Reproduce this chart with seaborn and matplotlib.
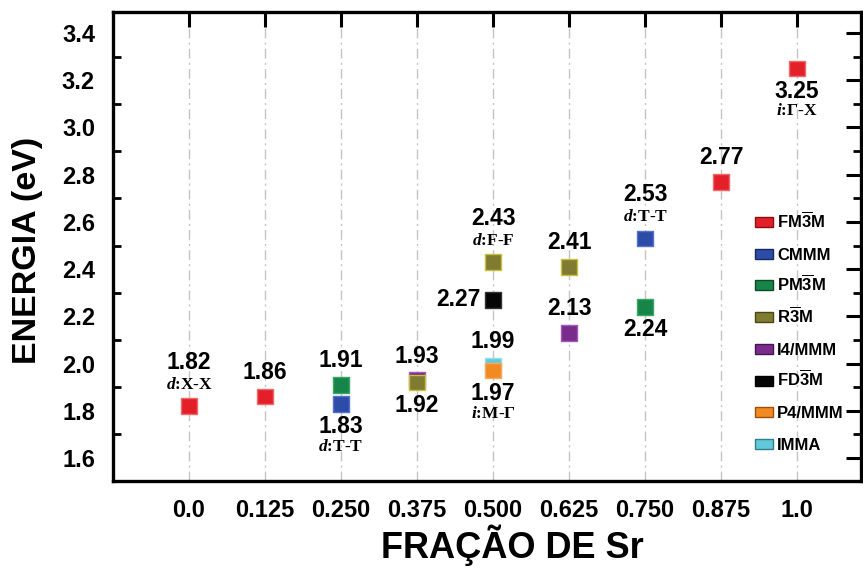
import numpy as np
import pandas as pd
import matplotlib
matplotlib.use("Agg")
import matplotlib.pyplot as plt
from matplotlib.patches import Rectangle
from matplotlib.ticker import MultipleLocator
import seaborn as sns

# ---------------- data ----------------
fraction_labels = ["0.0", "0.125", "0.250", "0.375", "0.500", "0.625", "0.750", "0.875", "1.0"]
phases = ["FM3M", "CMMM", "PM3M", "R3M", "I4/MMM", "FD3M", "P4/MMM", "IMMA"]
phase_labels = [r"FM$\overline{\mathbf{3}}$M", "CMMM", r"PM$\overline{\mathbf{3}}$M",
                r"R$\overline{\mathbf{3}}$M", "I4/MMM", r"FD$\overline{\mathbf{3}}$M",
                "P4/MMM", "IMMA"]

point_fraction = ["0.0", "0.125", "0.250", "0.250", "0.375", "0.375", "0.500", "0.500",
                  "0.500", "0.500", "0.625", "0.625", "0.750", "0.750", "0.875", "1.0"]
point_phase = ["FM3M", "FM3M", "CMMM", "PM3M", "I4/MMM", "R3M", "R3M", "FD3M",
               "IMMA", "P4/MMM", "R3M", "I4/MMM", "CMMM", "PM3M", "FM3M", "FM3M"]
energy = [1.82, 1.86, 1.83, 1.91, 1.93, 1.92, 2.43, 2.27,
          1.99, 1.97, 2.41, 2.13, 2.53, 2.24, 2.77, 3.25]
transition = ["d:X-X", "", "d:T-T", "", "", "", "d:F-F", "",
              "", "i:M-Γ", "", "", "d:T-T", "", "", "i:Γ-X"]

# ---------------- style ----------------
face_colors = {"FM3M": "#E3202A", "CMMM": "#2D4CA8", "PM3M": "#17844A", "R3M": "#7F7B30",
               "I4/MMM": "#7A2C8C", "FD3M": "#050505", "P4/MMM": "#F28A22", "IMMA": "#62C9D9"}
edge_colors = {"FM3M": "#F06A6A", "CMMM": "#5470D0", "PM3M": "#3AA865", "R3M": "#C9C040",
               "I4/MMM": "#A258B5", "FD3M": "#333333", "P4/MMM": "#F6A960", "IMMA": "#8EE0EC"}
legend_edges = {"FM3M": "#8A1010", "CMMM": "#16285E", "PM3M": "#0B4A28", "R3M": "#4A4716",
                "I4/MMM": "#441650", "FD3M": "#000000", "P4/MMM": "#9A5010", "IMMA": "#2F7F8C"}
value_pos = ["up2", "up", "down2", "up", "up", "down", "up2", "left",
             "up", "down2", "up", "up", "up2", "down", "up", "down2"]

sns.set_theme(style="white")
plt.rcParams["font.family"] = ["Liberation Sans", "DejaVu Sans"]
plt.rcParams["font.weight"] = "bold"
plt.rcParams["text.color"] = "black"
plt.rcParams["axes.labelcolor"] = "black"
plt.rcParams["xtick.color"] = "black"
plt.rcParams["ytick.color"] = "black"
plt.rcParams["mathtext.fontset"] = "custom"
plt.rcParams["mathtext.bf"] = "Liberation Sans:bold"
plt.rcParams["mathtext.rm"] = "Liberation Serif:bold"
plt.rcParams["mathtext.it"] = "Liberation Serif:italic:bold"

fig = plt.figure(figsize=(8.63, 5.70), dpi=100)
W, H = 863, 570
L, R, B, T = 113, 861, 481, 12
ax = fig.add_axes([L / W, (H - B) / H, (R - L) / W, (B - T) / H])

df = pd.DataFrame({"x": [float(f) for f in point_fraction], "energy": energy,
                   "phase": point_phase})

for f in fraction_labels:
    ax.axvline(float(f), color="#c4c4c4", lw=1.0, ls=(0, (7, 3, 1.5, 3)), zorder=0)

sns.scatterplot(data=df, x="x", y="energy", hue="phase", palette=face_colors,
                hue_order=phases, marker="s", s=125, linewidth=1.0, legend=False,
                ax=ax, zorder=3)
ax.collections[-1].set_edgecolors([edge_colors[p] for p in point_phase])

NUM_FS = 16.5
TR_FS = 12.5
for i, (xv, yv) in enumerate(zip(df["x"], df["energy"])):
    pos = value_pos[i]
    txt = f"{yv:.2f}"
    kw = dict(textcoords="offset pixels", fontsize=NUM_FS, fontweight="bold", color="black")
    tkw = dict(textcoords="offset pixels", ha="center", va="center", fontsize=TR_FS,
               fontweight="bold", family="Liberation Serif", color="black")
    trtxt = (r"$\mathit{" + transition[i][0] + "}$" + transition[i][1:]) if transition[i] else ""
    if pos == "up":
        ax.annotate(txt, (xv, yv), xytext=(0, 24), ha="center", va="center", **kw)
    elif pos == "up2":
        ax.annotate(txt, (xv, yv), xytext=(0, 44), ha="center", va="center", **kw)
        ax.annotate(trtxt, (xv, yv), xytext=(0, 21), **tkw)
    elif pos == "down":
        ax.annotate(txt, (xv, yv), xytext=(0, -23), ha="center", va="center", **kw)
    elif pos == "down2":
        ax.annotate(txt, (xv, yv), xytext=(0, -23), ha="center", va="center", **kw)
        ax.annotate(trtxt, (xv, yv), xytext=(0, -43), **tkw)
    elif pos == "left":
        ax.annotate(txt, (xv, yv), xytext=(-12, 0), ha="right", va="center", **kw)

ax.set_xlim(-0.125, 1.105)
ax.set_ylim(1.503, 3.489)
ax.set_xticks([float(f) for f in fraction_labels])
ax.set_xticklabels(fraction_labels)
ax.yaxis.set_major_locator(MultipleLocator(0.2))
ax.yaxis.set_minor_locator(MultipleLocator(0.1))
ax.yaxis.set_major_formatter(matplotlib.ticker.FormatStrFormatter("%.1f"))
ax.tick_params(axis="both", which="major", direction="in", length=11, width=2.2,
               labelsize=17, top=True, right=True, color="black", labelcolor="black")
ax.tick_params(axis="y", which="major", pad=13)
ax.tick_params(axis="x", which="major", pad=13)
ax.tick_params(axis="y", which="minor", direction="in", length=6, width=2, left=True, right=True,
               color="black")
for lab in ax.get_xticklabels() + ax.get_yticklabels():
    lab.set_fontweight("bold")
for sp in ax.spines.values():
    sp.set_linewidth(2.4)
    sp.set_color("black")

ax.set_xlabel("FRAÇÃO DE Sr", fontsize=26, fontweight="bold", color="black")
ax.set_ylabel("ENERGIA (eV)", fontsize=24.5, fontweight="bold", color="black")
ax.xaxis.set_label_coords((512 - L) / (R - L), -(525 - B) / (B - T))
ax.yaxis.set_label_coords((28 - L) / (R - L), (B - 250) / (B - T))
ax.xaxis.label.set_va("top")
ax.yaxis.label.set_va("center")

# legend (drawn as fixed rows so that every row has the same spacing)
def px(xp, yp):
    return (xp - L) / (R - L), (B - yp) / (B - T)

for i, p in enumerate(phases):
    yc = 222 + i * 31.7
    x0, y0 = px(755, yc + 5)
    x1, y1 = px(773, yc - 5)
    ax.add_patch(Rectangle((x0, y0), x1 - x0, y1 - y0, transform=ax.transAxes,
                           facecolor=face_colors[p], edgecolor=legend_edges[p],
                           linewidth=1.0, zorder=4, clip_on=False))
    tx, ty = px(777, yc + 6)
    ax.text(tx, ty, phase_labels[i], transform=ax.transAxes, fontsize=12,
            fontweight="bold", color="black", ha="left", va="baseline", zorder=4)

fig.savefig("out.png", dpi=100)
